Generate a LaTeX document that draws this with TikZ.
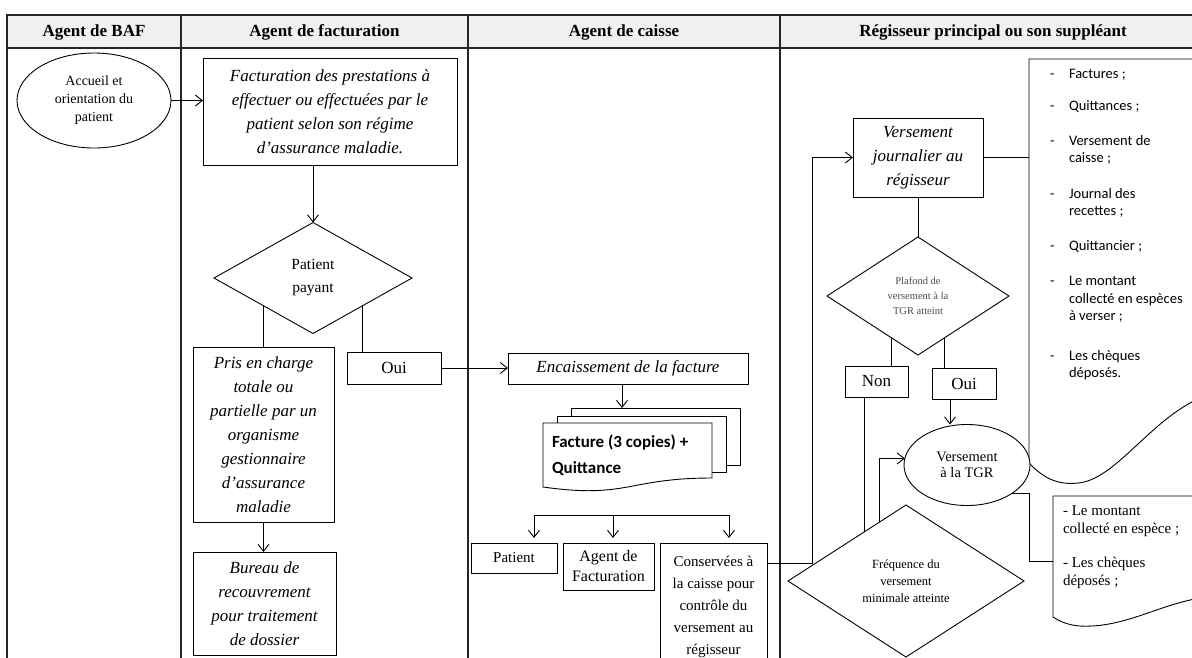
\documentclass[tikz,border=0pt]{standalone}
\usepackage{fontspec}
\setmainfont{Liberation Serif}
\newfontfamily\calib{Carlito}
\usetikzlibrary{shapes.geometric,arrows.meta}
\tikzset{
  every node/.style={inner sep=0pt, outer sep=0pt},
  lin/.style={line width=0.9pt},
  arr/.style={line width=0.9pt, -{Straight Barb[length=7pt,width=11pt,line width=0.9pt]}},
  boxn/.style={draw, line width=0.9pt, rectangle, align=center, fill=white},
  ital/.style={font=\fontsize{17}{24}\selectfont\itshape},
  reg/.style={font=\fontsize{15}{18}\selectfont},
  hdr/.style={font=\fontsize{17}{19}\selectfont\bfseries},
  grid/.style={line width=1.4pt, draw=black!85},
  dia/.style={draw, diamond, line width=0.9pt, align=center, fill=white},
  ell/.style={draw, ellipse, line width=0.9pt, align=center, fill=white}
}
\begin{document}
\begin{tikzpicture}[x=1pt,y=-1pt]
\useasboundingbox (0,0) rectangle (1192,657);
\fill[white] (0,0) rectangle (1192,657);
% table
\fill[black!6] (7,15) rectangle (1200,48);
\draw[grid] (1200,15) -- (7,15) -- (7,670);
\draw[grid] (7,48) -- (1200,48);
\foreach \x in {181,468,780} {\draw[grid] (\x,15) -- (\x,670);}
\node[hdr] (h1) at (94,32) {Agent de BAF};
\node[hdr] (h2) at (324.5,32) {Agent de facturation};
\node[hdr] (h3) at (624,32) {Agent de caisse};
\node[hdr] (h4) at (993,32) {Régisseur principal ou son suppléant};

% column 1-2
\node[ell, minimum width=154, minimum height=95, font=\fontsize{14}{18}\selectfont] (acc) at (94,100.5) {Accueil et\\orientation du\\patient};
\node[boxn, minimum width=254, minimum height=107, ital] (fact) at (330,111.5) {Facturation des prestations à\\effectuer ou effectuées par le\\patient selon son régime\\d’assurance maladie.};
\draw[arr] (acc.east) -- (acc.east -| fact.west);
\node[dia, minimum width=198, minimum height=111, font=\fontsize{15.5}{23}\selectfont] (pp) at (313,278) {Patient\\payant};
\draw[arr] (pp.north |- fact.south) -- (pp.north);
\node[boxn, minimum width=141, minimum height=175, ital] (pris) at (263.5,435) {Pris en charge\\totale ou\\partielle par un\\organisme\\gestionnaire\\d’assurance\\maladie};
\node[boxn, minimum width=143, minimum height=103, ital] (bur) at (264.5,603.5) {Bureau de\\recouvrement\\pour traitement\\de dossier};
\node[boxn, minimum width=94, minimum height=32, font=\fontsize{17}{18}\selectfont] (oui1) at (394,368) {Oui};
\draw[lin] (pp.south west) -- (pp.south west |- pris.north);
\draw[lin] (pp.south east) -- (pp.south east |- oui1.north);
\draw[arr] (pris.south) -- (pris.south |- bur.north);

% column 3
\node[boxn, minimum width=240, minimum height=31, ital] (enc) at (628,368.5) {Encaissement de la facture};
\draw[arr] (oui1.east) -- (oui1.east -| enc.west);
\draw[lin, fill=white] (571,408) rectangle (740,465);
\draw[lin, fill=white] (557,416) rectangle (726,472);
\draw[lin, fill=white] (543,423) -- (712,423) -- (712,478) .. controls (627.5,478) and (627.5,499) .. (543,487) -- cycle;
\node[font=\calib\bfseries\fontsize{17}{26}\selectfont, align=left, anchor=west] (doc) at (552,455) {Facture (3 copies) +\\Quittance};
\coordinate (doctop) at (622,408);
\draw[arr] (enc.south -| doctop) -- (doctop);
\node[boxn, minimum width=86, minimum height=30, reg] (pat) at (514,558) {Patient};
\node[boxn, minimum width=91, minimum height=47, font=\fontsize{16}{20}\selectfont] (agf) at (608.5,566.5) {Agent de\\Facturation};
\node[boxn, minimum width=107, minimum height=127, font=\fontsize{15}{22}\selectfont] (cons) at (713.5,606.5) {Conservées à\\la caisse pour\\contrôle du\\versement au\\régisseur};
\coordinate (brP) at (534,515);
\coordinate (brA) at (613,515);
\coordinate (brC) at (729,515);
\coordinate (tP) at (534,538);
\coordinate (tA) at (613,538);
\coordinate (tC) at (729,538);
\draw[lin] (brP) -- (brC);
\draw[arr] (brP) -- (tP);
\draw[arr] (brA) -- (tA);
\draw[arr] (brC) -- (tC);

% column 4
\node[boxn, minimum width=130, minimum height=79, ital] (vj) at (918,157.5) {Versement\\journalier au\\régisseur};
\coordinate (turn) at (812,563);
\draw[arr] (turn -| cons.east) -- (turn) |- (vj.west);
\draw[lin] (1200,59) -- (1029,59) -- (1029,463) .. controls (1045,480) and (1060,485) .. (1078,483) .. controls (1115,480) and (1150,420) .. (1200,398);
\coordinate (bdl) at (1029,157.5);
\draw[lin] (vj.east) -- (bdl);
\node[anchor=north west, font=\calib\fontsize{14.5}{17.5}\selectfont] (list) at (1050,66) {\begin{tabular}{@{}p{19pt}@{}l@{}}
-&Factures ;\\[15pt]
-&Quittances ;\\[17pt]
-&Versement de\\
&caisse ;\\[18pt]
-&Journal des\\
&recettes ;\\[17pt]
-&Quittancier ;\\[18pt]
-&Le montant\\
&collecté en espèces\\
&à verser ;\\[22pt]
-&Les chèques\\
&déposés.
\end{tabular}};
\node[dia, minimum width=182, minimum height=118, font=\fontsize{10.5}{15}\selectfont, text=black!70] (pl) at (918,296) {Plafond de\\versement à la\\TGR atteint};
\draw[lin] (vj.south) -- (vj.south |- pl.north);
\node[boxn, minimum width=63, minimum height=31, font=\fontsize{17}{18}\selectfont] (non) at (876.5,381.5) {Non};
\node[boxn, minimum width=64, minimum height=31, font=\fontsize{17}{18}\selectfont] (oui2) at (964,383.5) {Oui};
\draw[lin] (pl.238) -- (pl.238 |- non.north);
\draw[lin] (pl.302) -- (pl.302 |- oui2.north);
\node[ell, minimum width=126, minimum height=81, font=\fontsize{14.5}{16.5}\selectfont] (tgr) at (967,465) {Versement\\à la TGR};
\draw[arr] ([xshift=-14pt]oui2.south) -- ([xshift=-14pt]oui2.south |- tgr.north);
\node[dia, minimum width=236, minimum height=152, font=\fontsize{12.5}{17}\selectfont] (fr) at (906,581) {Fréquence du\\versement\\minimale atteinte};
\draw[lin] (fr.130.6 |- non.south) -- (fr.130.6);
\draw[arr] (fr.114.7) |- (tgr.174);
\coordinate (jog) at (1029,530);
\coordinate (sd) at (1053,561);
\draw[lin] (tgr.-32) -| (jog) |- (sd);
\draw[lin] (1200,496) -- (1053,496) -- (1053,617) .. controls (1065,625) and (1078,627) .. (1092,626) .. controls (1130,624) and (1160,605) .. (1200,598);
\node[anchor=north west, align=left, font=\fontsize{15}{18}\selectfont] (sdt) at (1063,506) {- Le montant\\collecté en espèce ;\\[16pt]- Les chèques\\déposés ;};
\end{tikzpicture}
\end{document}
